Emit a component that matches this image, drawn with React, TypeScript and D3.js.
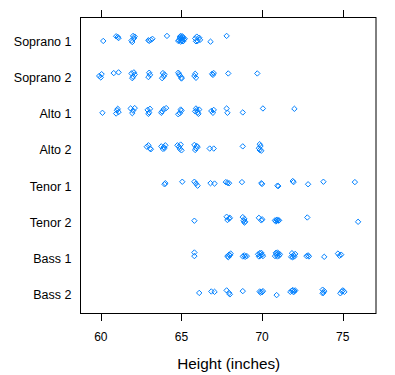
import React from "react";
import * as d3 from "d3";

const voiceParts = ["Bass 2", "Bass 1", "Tenor 2", "Tenor 1", "Alto 2", "Alto 1", "Soprano 2", "Soprano 1"];
const xTicks = [60, 65, 70, 75];

// jittered heights (inches) and vertical jitter (category units)
const soprano1Height = [60.15, 61.05, 60.95, 61.1, 62.0, 61.95, 62.05, 61.9, 62.1, 63.1, 63.0, 63.2, 62.95, 64.1, 64.9, 65.0, 65.1, 64.95, 65.05, 65.15, 64.85, 65.0, 65.1, 64.9, 65.05, 64.95, 65.2, 64.8, 65.85, 66.0, 66.1, 65.95, 66.15, 65.9, 66.8, 67.8];
const soprano1Jitter = [-0.05, 0.06, 0.08, 0.03, 0.09, -0.08, 0.02, -0.04, 0.07, -0.02, -0.05, 0.01, -0.03, 0.09, 0.02, -0.04, 0.05, -0.07, 0.08, -0.01, -0.03, 0.03, -0.06, 0.06, -0.02, 0.09, 0.01, -0.05, 0.02, -0.05, 0.04, 0.07, -0.02, -0.06, -0.07, 0.09];

const soprano2Height = [59.9, 60.05, 60.0, 60.8, 61.1, 61.9, 62.0, 62.1, 61.95, 62.05, 63.0, 62.95, 63.05, 63.85, 63.9, 63.8, 63.95, 64.8, 64.9, 65.0, 64.85, 65.0, 65.8, 65.9, 65.85, 66.9, 67.0, 66.95, 67.9, 69.7];
const soprano2Jitter = [-0.02, 0.03, -0.06, 0.06, 0.08, 0.05, -0.04, 0.02, -0.08, 0.08, 0.07, -0.05, 0.01, 0.06, -0.03, -0.08, 0.02, 0.07, -0.01, -0.06, 0.03, -0.09, -0.02, -0.07, 0.04, 0.04, 0.06, 0.01, 0.05, 0.05];

const alto1Height = [60.1, 61.0, 61.1, 61.05, 60.95, 61.85, 62.1, 61.95, 62.0, 62.9, 63.0, 63.05, 62.95, 63.75, 63.9, 64.05, 63.8, 64.9, 65.0, 64.95, 64.8, 65.9, 66.0, 65.95, 66.05, 65.85, 66.1, 66.85, 66.95, 67.0, 67.8, 67.85, 68.8, 70.05, 72.0];
const alto1Jitter = [-0.04, 0.03, -0.02, 0.07, -0.06, 0.08, 0.09, -0.05, 0.02, 0.04, -0.03, 0.07, -0.07, -0.04, 0.06, 0.09, 0.0, -0.05, 0.02, 0.05, -0.08, 0.08, -0.03, 0.03, -0.07, 0.0, 0.05, 0.01, -0.04, 0.04, 0.08, -0.04, -0.03, 0.08, 0.07];

const alto2Height = [62.85, 63.05, 62.95, 63.1, 63.75, 63.9, 63.85, 64.0, 63.95, 64.75, 64.9, 64.85, 65.0, 64.95, 65.8, 65.9, 65.95, 65.85, 66.0, 66.75, 67.0, 68.8, 69.85, 69.9, 69.8, 69.85, 69.95];
const alto2Jitter = [0.02, -0.03, 0.06, -0.05, 0.03, 0.01, -0.04, 0.06, -0.02, 0.06, -0.04, 0.02, -0.08, 0.08, 0.07, -0.02, 0.04, -0.07, 0.01, -0.03, -0.03, 0.03, 0.09, 0.04, -0.02, -0.07, -0.09];

const tenor1Height = [64.0, 63.95, 65.05, 65.8, 65.9, 66.0, 66.8, 67.05, 67.75, 67.85, 67.95, 68.75, 69.95, 70.0, 70.95, 71.0, 71.9, 71.95, 72.85, 73.8, 75.75];
const tenor1Jitter = [0.01, -0.02, 0.05, 0.05, 0.0, -0.06, 0.01, 0.0, 0.04, 0.02, 0.01, 0.04, 0.01, -0.01, -0.06, -0.07, 0.07, 0.04, -0.02, 0.05, 0.04];

const tenor2Height = [65.8, 67.8, 67.95, 67.85, 68.0, 68.8, 68.9, 68.85, 68.95, 68.9, 69.8, 70.0, 69.95, 70.8, 70.9, 71.0, 70.95, 71.05, 70.85, 72.8, 75.95];
const tenor2Jitter = [-0.03, 0.08, 0.03, -0.01, 0.05, 0.07, 0.02, -0.03, -0.06, -0.08, 0.05, 0.01, -0.02, -0.02, -0.01, -0.03, 0.0, -0.02, -0.05, 0.06, -0.06];

const bass1Height = [65.8, 65.8, 67.85, 67.95, 68.05, 67.9, 68.0, 68.8, 68.95, 68.9, 69.05, 69.75, 69.85, 69.9, 70.0, 69.8, 69.95, 70.05, 70.85, 70.9, 70.95, 71.0, 71.05, 70.8, 70.95, 71.1, 71.85, 71.95, 71.9, 72.0, 72.05, 71.8, 72.75, 72.9, 72.85, 73.85, 74.7, 74.8, 74.9];
const bass1Jitter = [0.09, -0.01, -0.01, 0.03, 0.06, -0.04, 0.01, -0.02, -0.03, 0.01, -0.01, 0.04, 0.07, 0.0, 0.03, -0.02, 0.08, -0.01, 0.08, 0.03, -0.02, 0.06, 0.0, -0.01, 0.09, 0.04, 0.07, 0.02, -0.04, -0.02, 0.05, -0.03, -0.01, -0.02, 0.01, -0.03, 0.06, 0.0, 0.03];

const bass2Height = [66.1, 66.85, 67.05, 67.8, 67.95, 68.0, 68.8, 69.85, 70.0, 70.05, 69.9, 70.9, 71.75, 71.85, 71.9, 72.0, 72.05, 71.95, 73.75, 73.85, 73.75, 73.8, 74.85, 74.95, 75.0, 75.1];
const bass2Jitter = [-0.03, 0.01, 0.0, 0.04, -0.03, -0.07, 0.02, 0.01, -0.01, 0.02, -0.02, -0.09, 0.0, 0.03, 0.05, 0.02, 0.04, -0.01, 0.06, 0.02, -0.04, -0.02, -0.04, 0.01, 0.04, 0.0];

const groups = [
  { part: "Soprano 1", heights: soprano1Height, jitter: soprano1Jitter },
  { part: "Soprano 2", heights: soprano2Height, jitter: soprano2Jitter },
  { part: "Alto 1", heights: alto1Height, jitter: alto1Jitter },
  { part: "Alto 2", heights: alto2Height, jitter: alto2Jitter },
  { part: "Tenor 1", heights: tenor1Height, jitter: tenor1Jitter },
  { part: "Tenor 2", heights: tenor2Height, jitter: tenor2Jitter },
  { part: "Bass 1", heights: bass1Height, jitter: bass1Jitter },
  { part: "Bass 2", heights: bass2Height, jitter: bass2Jitter },
];

const W = 395;
const H = 375;
const left = 80.5;
const right = 376;
const top = 17.5;
const bottom = 313.5;
const font = "'Liberation Sans', Arial, sans-serif";
const blue = "#0080ff";

export default function App() {
  const x = d3.scaleLinear().domain([58.74, 77.06]).range([left, right]);
  const y = d3.scaleLinear().domain([0.4, 8.6]).range([bottom, top]);
  const level = (p: string) => voiceParts.indexOf(p) + 1;
  const r = 2.7;
  const diamond = `M0,${-r}L${r},0L0,${r}L${-r},0Z`;

  return (
    <svg width={W} height={H} style={{ position: "absolute", left: 0, top: 0, background: "#fff" }} fontFamily={font}>
      <rect x={0} y={0} width={W} height={H} fill="#fff" />
      {groups.map((g) => (
        <g key={g.part}>
          {g.heights.map((h, i) => (
            <path
              key={i}
              d={diamond}
              transform={`translate(${x(h)},${y(level(g.part) + g.jitter[i])})`}
              fill="none"
              stroke={blue}
              strokeWidth={1}
            />
          ))}
        </g>
      ))}
      <rect x={left} y={top} width={right - left} height={bottom - top} fill="none" stroke="#000" strokeWidth={1} />
      {xTicks.map((t) => (
        <g key={t}>
          <line x1={Math.round(x(t)) + 0.5} x2={Math.round(x(t)) + 0.5} y1={top} y2={top - 7.5} stroke="#000" />
          <line x1={Math.round(x(t)) + 0.5} x2={Math.round(x(t)) + 0.5} y1={bottom} y2={bottom + 7.5} stroke="#000" />
          <text x={x(t)} y={341} textAnchor="middle" fontSize={12}>
            {t}
          </text>
        </g>
      ))}
      {voiceParts.map((p) => (
        <text key={p} x={71.5} y={y(level(p)) + 7} textAnchor="end" fontSize={12.5}>
          {p}
        </text>
      ))}
      <text x={(left + right) / 2 + 0.5} y={369} textAnchor="middle" fontSize={15.3}>
        Height (inches)
      </text>
    </svg>
  );
}
